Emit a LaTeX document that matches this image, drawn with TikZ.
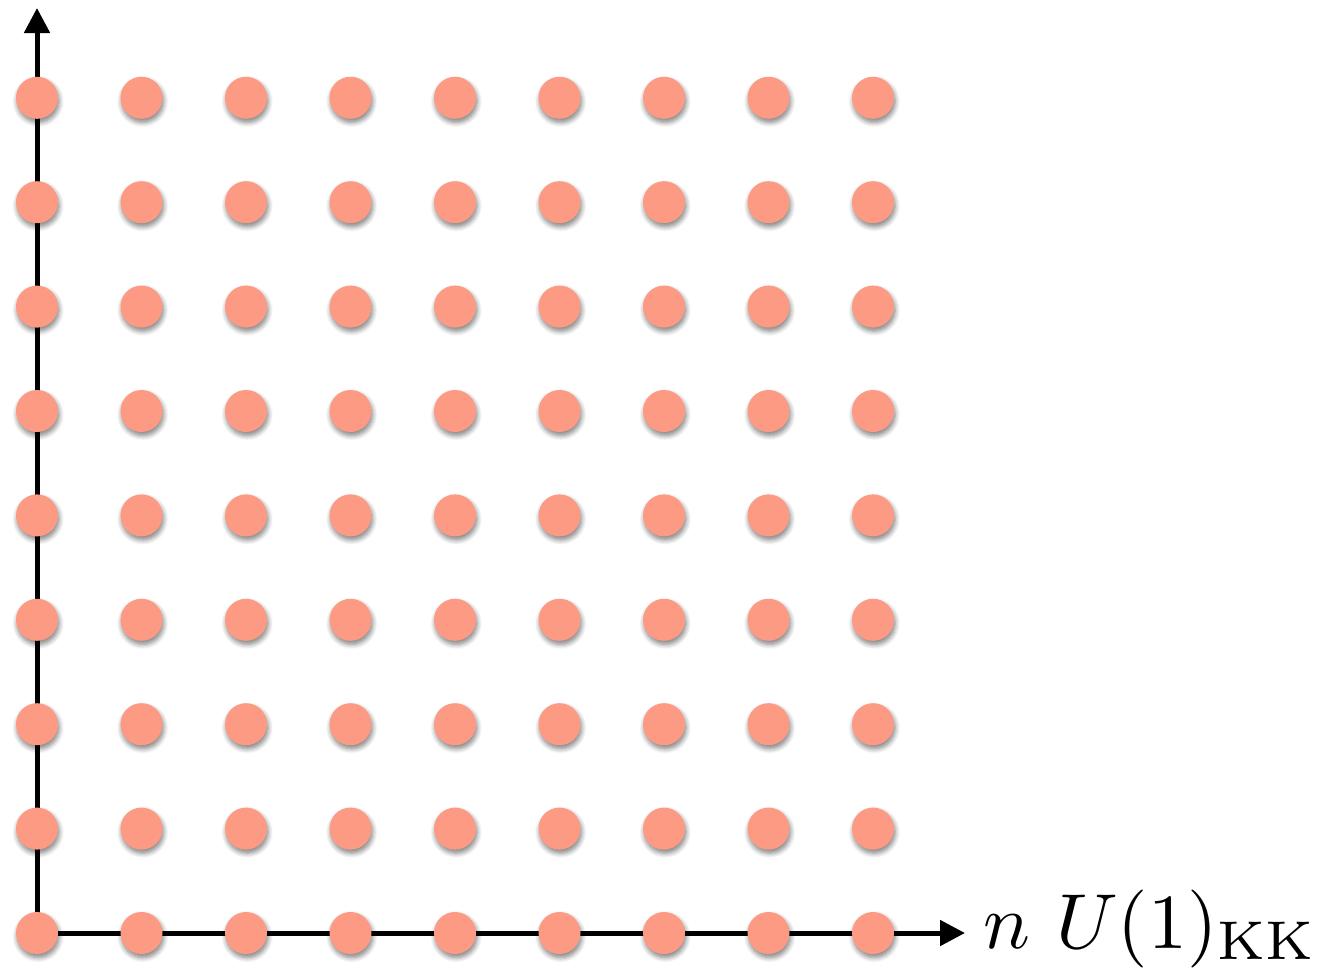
\documentclass[tikz,border=0pt]{standalone}
\usetikzlibrary{arrows.meta,shadows.blur}
\definecolor{dotfill}{RGB}{253,154,132}
\tikzset{
  dot/.style={circle,fill=dotfill,draw=none,minimum size=21pt,inner sep=0pt,
    blur shadow={shadow xshift=0.6pt,shadow yshift=-1.8pt,shadow blur steps=6,shadow blur radius=2.4pt,shadow opacity=50}},
  axis/.style={line width=2.5pt,-{Triangle[length=12.5pt,width=12.5pt]}},
}
\begin{document}
\begin{tikzpicture}[x=0.5pt,y=-0.5pt]
\useasboundingbox (0,0) rectangle (1331,969);
\coordinate (o) at (37,933);
\coordinate (ytip) at (37,8);
\coordinate (xtip) at (965,933);
\draw[axis] (o) -- (ytip);
\draw[axis] (o) -- (xtip);
\foreach \i in {0,...,8}{
  \foreach \j in {0,...,8}{
    \node[dot] (d-\i-\j) at ({37+104.5*\i},{933-104.4*\j}) {};
  }
}
\node[anchor=base west,inner sep=0pt] (lab) at (983,948)
  {\scalebox{3.9}{$n\ U(1)_{\mathrm{KK}}$}};
\end{tikzpicture}
\end{document}
